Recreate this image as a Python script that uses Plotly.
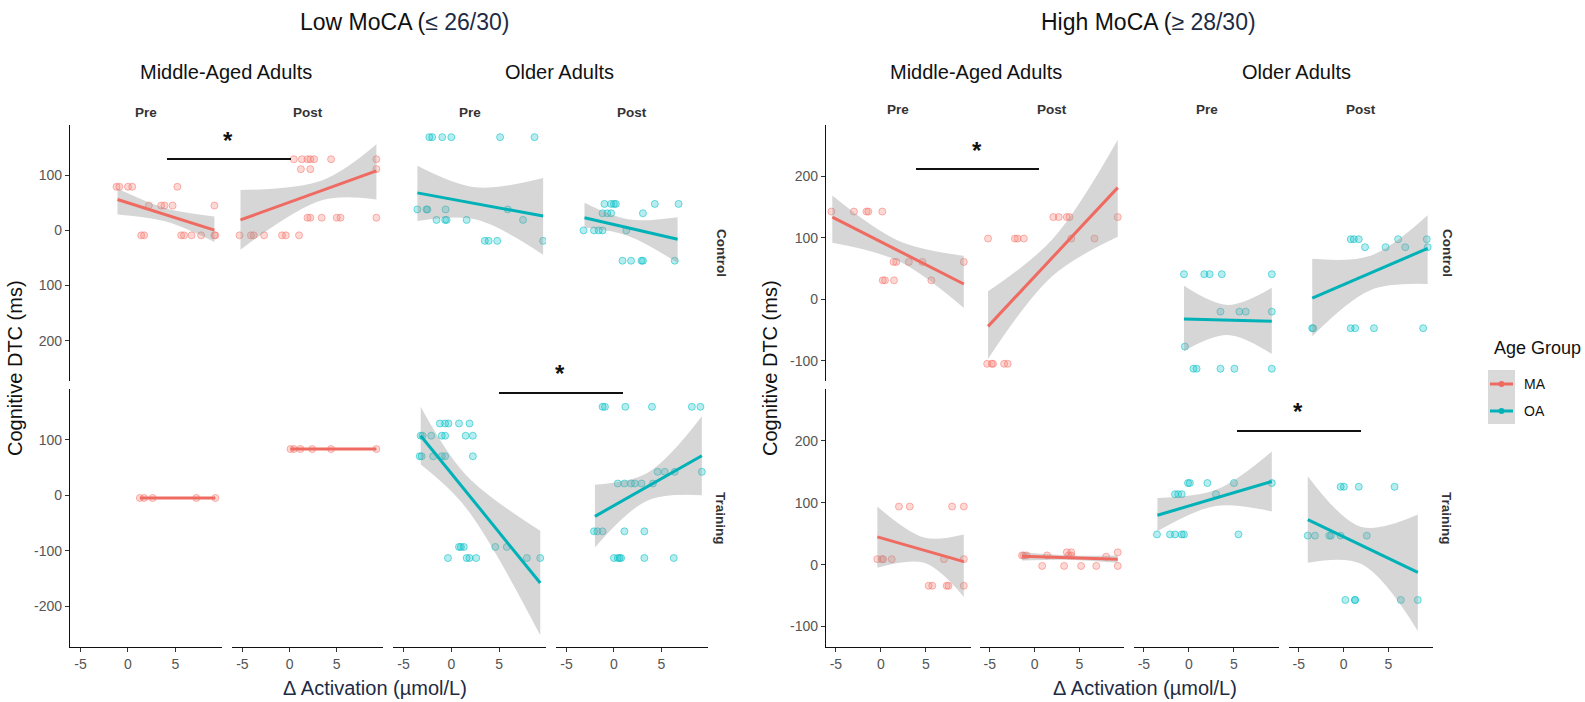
import plotly.graph_objects as go

# ---------------- data ----------------
# Low MoCA - Control row
low_ctrl_ma_pre_x = [-1.2, -0.9, 0.0, 0.45, 5.2, 2.2, 3.5, 3.85, 4.7, 9.1, 1.4, 1.7, 5.6, 5.9, 6.7, 7.7, 9.1, 9.2]
low_ctrl_ma_pre_y = [79, 79, 79, 79, 79, 45, 45, 45, 45, 45, -9, -9, -9, -9, -9, -9, -9, -9]
low_ctrl_ma_post_x = [0.45, 1.3, 1.9, 2.2, 2.6, 4.4, 9.2, 1.2, 2.2, 9.2, 1.9, 2.2, 3.4, 5.0, 5.4, 9.2,
                      -5.3, -4.1, -3.8, -2.7, -0.8, -0.4, 1.0]
low_ctrl_ma_post_y = [129, 129, 129, 129, 129, 129, 129, 111, 111, 111, 23, 23, 23, 23, 23, 23,
                      -9, -9, -9, -9, -9, -9, -9]
low_ctrl_oa_pre_x = [-2.3, -2.0, -0.95, 0.0, 5.1, 8.7, -3.55, -2.6, -2.5, -0.6, 5.9, -1.55, -0.65, -0.5, 1.6, 7.5,
                     3.5, 3.9, 4.8, 9.6]
low_ctrl_oa_pre_y = [169, 169, 169, 169, 169, 169, 38, 38, 38, 38, 38, 19, 19, 19, 19, 19, -19, -19, -19, -19]
low_ctrl_oa_post_x = [-1.0, -0.3, 0.0, 0.2, 4.3, 6.8, -1.2, -0.7, -0.3, 3.05, -3.2, -2.1, -1.6, -1.2, 1.3,
                      0.9, 1.8, 2.9, 3.05, 6.4]
low_ctrl_oa_post_y = [48, 48, 48, 48, 48, 48, 31, 31, 31, 31, 0, 0, 0, 0, 0, -55, -55, -55, -55, -55]

# Low MoCA - Training row
low_train_ma_pre_x = [1.25, 1.7, 2.6, 7.2, 9.2]
low_train_ma_pre_y = [-5, -5, -5, -5, -5]
low_train_ma_post_x = [0.1, 0.45, 1.15, 2.4, 4.4, 9.2]
low_train_ma_post_y = [83, 83, 83, 83, 83, 83]
low_train_oa_pre_x = [-1.2, -0.65, -0.3, 0.8, 1.9, -3.2, -3.0, -2.1, -1.0, -0.65, 1.5, 2.25,
                      -3.3, -3.1, -1.9, -1.0, -0.65, 2.25, 0.8, 1.0, 1.3, 4.6, 5.8,
                      -0.35, 1.6, 1.9, 2.6, 7.9, 9.3]
low_train_oa_pre_y = [129, 129, 129, 129, 129, 107, 107, 107, 107, 107, 107, 107,
                      70, 70, 70, 70, 70, 70, -93, -93, -93, -93, -93,
                      -113, -113, -113, -113, -113, -113]
low_train_oa_post_x = [-1.2, -0.95, 1.2, 4.0, 8.2, 9.1, 4.6, 5.35, 6.4, 9.25, 0.4, 1.1, 1.8, 2.2, 2.9, 4.1,
                       -2.1, -1.75, -1.2, 1.1, 3.2, 0.0, 0.4, 0.6, 0.75, 3.2, 6.3]
low_train_oa_post_y = [159, 159, 159, 159, 159, 159, 42, 42, 42, 42, 21, 21, 21, 21, 21, 21,
                       -65, -65, -65, -65, -65, -113, -113, -113, -113, -113, -113]

# High MoCA - Control row
high_ctrl_ma_pre_x = [-5.5, -3.0, -1.6, -1.4, 0.15, 1.4, 1.7, 3.1, 4.6, 9.2, 0.2, 0.45, 1.45, 5.6]
high_ctrl_ma_pre_y = [143, 143, 143, 143, 143, 61, 61, 61, 61, 61, 31, 31, 31, 31]
high_ctrl_ma_post_x = [2.1, 2.7, 3.6, 3.9, 9.3, -5.2, -2.2, -1.9, -1.2, 4.1, 6.7, -5.3, -4.8, -4.65, -3.4, -3.0]
high_ctrl_ma_post_y = [134, 134, 134, 134, 134, 99, 99, 99, 99, 99, 99, -105, -105, -105, -105, -105]
high_ctrl_oa_pre_x = [-0.55, 1.7, 2.3, 3.65, 9.2, 3.5, 5.6, 6.3, 9.2, -0.45, 0.5, 0.85, 3.5, 5.05, 9.2]
high_ctrl_oa_pre_y = [41, 41, 41, 41, 41, -20, -20, -20, -20, -77, -113, -113, -113, -113, -113]
high_ctrl_oa_post_x = [0.8, 1.15, 1.7, 6.1, 9.3, 2.4, 4.7, 6.9, 9.4, -3.5, -3.4, 0.8, 1.3, 3.4, 8.9]
high_ctrl_oa_post_y = [98, 98, 98, 98, 98, 85, 85, 85, 85, -47, -47, -47, -47, -47, -47]

# High MoCA - Training row
high_train_ma_pre_x = [2.0, 3.2, 7.9, 9.2, -0.4, 0.1, 0.25, 1.2, 7.0, 9.2, 5.3, 5.7, 7.3, 7.5, 9.2]
high_train_ma_pre_y = [94, 94, 94, 94, 9, 9, 9, 9, 9, 9, -34, -34, -34, -34, -34]
high_train_ma_post_x = [-1.4, -1.2, -0.9, 1.4, 3.8, 4.1, 8.0, 3.6, 4.1, 9.3, 0.85, 3.3, 5.2, 6.9, 9.3]
high_train_ma_post_y = [15, 15, 15, 15, 15, 15, 13, 20, 20, 20, -2, -2, -2, -2, -2]
high_train_oa_pre_x = [-0.1, 0.1, 2.05, 5.0, 9.2, -1.55, -1.2, -0.8, 3.0, -3.55, -2.1, -1.55, -0.8, -0.55, 5.5]
high_train_oa_pre_y = [132, 132, 132, 132, 132, 114, 114, 114, 114, 49, 49, 49, 49, 49, 49]
high_train_oa_post_x = [-0.33, 0.04, 1.7, 5.7, -4.0, -3.2, -1.6, -1.4, -0.33, 2.6, 0.2, 1.26, 1.3, 6.4, 8.3]
high_train_oa_post_y = [126, 126, 126, 126, 47, 47, 47, 47, 47, 47, -57, -57, -57, -57, -57]

# Fitted lines (x at left, mid, right) with line values at the ends and CI band (lo / hi at the three x)
low_ctrl_ma_pre_fit = dict(x=[-1.1, 4.0, 9.1], line=[56, 0.5], lo=[29, 16, -21], hi=[76, 40, 25])
low_ctrl_ma_post_fit = dict(x=[-5.2, 3.5, 9.2], line=[19, 108], lo=[-35, 55, 56], hi=[73, 91, 156])
low_ctrl_oa_pre_fit = dict(x=[-3.55, 2.5, 9.6], line=[68, 26], lo=[17, 20, -44], hi=[117, 78, 95])
low_ctrl_oa_post_fit = dict(x=[-3.1, 1.5, 6.7], line=[23, -16], lo=[5, -10, -59], hi=[50, 20, 24])
low_train_ma_pre_fit = dict(x=[1.25, 5.2, 9.2], line=[-5, -5], lo=[-5, -5, -5], hi=[-5, -5, -5])
low_train_ma_post_fit = dict(x=[0.1, 4.6, 9.2], line=[83, 83], lo=[83, 83, 83], hi=[83, 83, 83])
low_train_oa_pre_fit = dict(x=[-3.2, 1.5, 9.3], line=[107, -158], lo=[55, -22, -252], hi=[159, 37, -64])
low_train_oa_post_fit = dict(x=[-2.0, 3.5, 9.25], line=[-38, 71], lo=[-94, -10, 0], hi=[19, 40, 142])
high_ctrl_ma_pre_fit = dict(x=[-5.4, 2.0, 9.2], line=[134, 25], lo=[92, 62, -14], hi=[169, 95, 71])
high_ctrl_ma_post_fit = dict(x=[-5.2, 2.0, 9.3], line=[-44, 182], lo=[-97, 38, 102], hi=[13, 98, 260])
high_ctrl_oa_pre_fit = dict(x=[-0.55, 4.3, 9.2], line=[-32, -35.5], lo=[-84, -58, -89], hi=[22, -9, 19])
high_ctrl_oa_post_fit = dict(x=[-3.5, 3.0, 9.4], line=[2, 83], lo=[-60, 15, 25], hi=[66, 71, 137])
high_train_ma_pre_fit = dict(x=[-0.4, 4.8, 9.2], line=[45, 5], lo=[-5, 3, -52], hi=[94, 44, 49])
high_train_ma_post_fit = dict(x=[-1.4, 4.0, 9.3], line=[13.5, 9], lo=[7, 8, 3], hi=[20, 15, 15])
high_train_oa_pre_fit = dict(x=[-3.5, 3.0, 9.2], line=[80, 134.5], lo=[54, 95, 86], hi=[108, 121, 183])
high_train_oa_post_fit = dict(x=[-4.0, 2.0, 8.3], line=[73, -12.5], lo=[3, 1, -107], hi=[143, 61, 81])

x_tick_vals = [-5, 0, 5]
x_tick_text = ["-5", "0", "5"]
low_ctrl_y_vals = [100, 0, -100, -200]
low_ctrl_y_text = ["100", "0", "100", "200"]
low_train_y_vals = [100, 0, -100, -200]
low_train_y_text = ["100", "0", "-100", "-200"]
high_y_vals = [200, 100, 0, -100]
high_y_text = ["200", "100", "0", "-100"]

# ---------------- layout geometry ----------------
W, H = 1585, 702
FONT = "Liberation Sans, Arial, sans-serif"
MA_FILL, MA_EDGE, MA_LINE = "rgba(248,118,109,0.28)", "rgba(248,118,109,0.55)", "#EF6A60"
OA_FILL, OA_EDGE, OA_LINE = "rgba(0,191,196,0.28)", "rgba(0,191,196,0.55)", "#00B2B7"
BAND = "rgba(153,153,153,0.4)"


def px(xp):
    return xp / W


def py(yp):
    return 1 - yp / H


COLS = {
    "low": [(70, 222), (232, 383), (393, 546), (556, 708)],
    "high": [(826, 971), (980, 1124), (1134, 1279), (1289, 1433)],
}
ROWS = [(125, 381), (389, 647)]
XRANGE = {"low": [-6.1, 9.9], "high": [-6.1, 10.0]}
YRANGE = {"low": [-273, 191], "high": [-133, 284]}

facets = []
for panel in ["low", "high"]:
    for r, row in enumerate(["ctrl", "train"]):
        for c, (grp, phase) in enumerate([("ma", "pre"), ("ma", "post"), ("oa", "pre"), ("oa", "post")]):
            name = f"{panel}_{row}_{grp}_{phase}"
            facets.append(dict(panel=panel, row=r, col=c, grp=grp,
                               x=globals()[name + "_x"], y=globals()[name + "_y"],
                               fit=globals()[name + "_fit"]))

fig = go.Figure()
layout = dict(width=W, height=H, margin=dict(l=0, r=0, t=0, b=0),
              paper_bgcolor="white", plot_bgcolor="white", showlegend=False,
              font=dict(family=FONT, color="#222"))

for i, f in enumerate(facets):
    n = i + 1
    xs = "x" if n == 1 else f"x{n}"
    ys = "y" if n == 1 else f"y{n}"
    xa = "xaxis" if n == 1 else f"xaxis{n}"
    ya = "yaxis" if n == 1 else f"yaxis{n}"
    c0, c1 = COLS[f["panel"]][f["col"]]
    r0, r1 = ROWS[f["row"]]
    bottom = f["row"] == 1
    left = f["col"] == 0
    layout[xa] = dict(domain=[px(c0), px(c1)], range=XRANGE[f["panel"]], anchor=ys,
                      showgrid=False, zeroline=False, showline=bottom, linecolor="#111", linewidth=1.4,
                      ticks="outside" if bottom else "", ticklen=4, tickcolor="#333",
                      tickvals=x_tick_vals, ticktext=x_tick_text, showticklabels=bottom,
                      tickfont=dict(size=14, color="#555", family=FONT))
    if f["panel"] == "low":
        yv, yt = (low_ctrl_y_vals, low_ctrl_y_text) if f["row"] == 0 else (low_train_y_vals, low_train_y_text)
    else:
        yv, yt = high_y_vals, high_y_text
    layout[ya] = dict(domain=[py(r1), py(r0)], range=YRANGE[f["panel"]], anchor=xs,
                      showgrid=False, zeroline=False, showline=left, linecolor="#111", linewidth=1.4,
                      ticks="outside" if left else "", ticklen=4, tickcolor="#333",
                      tickvals=yv, ticktext=yt, showticklabels=left,
                      tickfont=dict(size=14, color="#555", family=FONT))

    fill, edge, lc = (MA_FILL, MA_EDGE, MA_LINE) if f["grp"] == "ma" else (OA_FILL, OA_EDGE, OA_LINE)
    fit = f["fit"]
    fig.add_trace(go.Scatter(x=f["x"], y=f["y"], mode="markers", xaxis=xs, yaxis=ys,
                             marker=dict(size=7, color=fill, line=dict(color=edge, width=1)),
                             hoverinfo="skip"))
    fig.add_trace(go.Scatter(x=fit["x"], y=fit["lo"], mode="lines", xaxis=xs, yaxis=ys,
                             line=dict(width=0, shape="spline"), hoverinfo="skip"))
    fig.add_trace(go.Scatter(x=fit["x"], y=fit["hi"], mode="lines", xaxis=xs, yaxis=ys,
                             line=dict(width=0, shape="spline"), fill="tonexty", fillcolor=BAND,
                             hoverinfo="skip"))
    fig.add_trace(go.Scatter(x=[fit["x"][0], fit["x"][-1]], y=fit["line"], mode="lines",
                             xaxis=xs, yaxis=ys, line=dict(width=3, color=lc), hoverinfo="skip"))

annotations = []
shapes = []


def text(t, x, y, size, color="#111", bold=False, angle=0, xanchor="center", yanchor="middle"):
    if bold:
        t = f"<b>{t}</b>"
    annotations.append(dict(text=t, x=px(x), y=py(y), xref="paper", yref="paper", showarrow=False,
                            xanchor=xanchor, yanchor=yanchor, textangle=angle,
                            font=dict(size=size, color=color, family=FONT)))


# panel titles
text("Low MoCA (<span style='color:#1d2b45'>≤ 26/30)</span>", 405, 22, 23)
text("High MoCA (<span style='color:#1d2b45'>≥ 28/30)</span>", 1148, 22, 23)
text("Middle-Aged Adults", 226, 72, 20)
text("Older Adults", 559, 72, 20)
text("Middle-Aged Adults", 976, 72, 20)
text("Older Adults", 1296, 72, 20)
for panel, ylab in [("low", 113), ("high", 110)]:
    for c, lab in enumerate(["Pre", "Post", "Pre", "Post"]):
        c0, c1 = COLS[panel][c]
        text(lab, (c0 + c1) / 2, ylab, 13.5, bold=True, color="#333")
for xs_ in [721, 1447]:
    text("Control", xs_, 253, 13.5, bold=True, angle=90, color="#333")
    text("Training", xs_, 518, 13.5, bold=True, angle=90, color="#333")
text("Cognitive DTC (ms)", 15, 368, 20, angle=-90)
text("Cognitive DTC (ms)", 770, 368, 20, angle=-90)
text("Δ Activation (µmol/L)", 375, 688, 20, color="#1d2b45")
text("Δ Activation (µmol/L)", 1145, 688, 20, color="#1d2b45")

# significance bars
for (x0, x1, yl, xs_, ys_) in [(167, 291, 159, 228, 140), (499, 623, 393, 560, 373),
                                (916, 1039, 169, 977, 150), (1237, 1361, 431, 1298, 412)]:
    shapes.append(dict(type="line", xref="paper", yref="paper", x0=px(x0), x1=px(x1), y0=py(yl), y1=py(yl),
                       line=dict(color="#111", width=2)))
    text("*", xs_, ys_, 24, bold=True)

# legend (ggplot style)
text("Age Group", 1492, 348, 18, xanchor="left")
shapes.append(dict(type="rect", xref="paper", yref="paper", x0=px(1488), x1=px(1515), y0=py(424), y1=py(370),
                   fillcolor="#D9D9D9", line=dict(width=0), layer="below"))
for yk, col, lab in [(384, MA_LINE, "MA"), (411, OA_LINE, "OA")]:
    shapes.append(dict(type="line", xref="paper", yref="paper", x0=px(1490), x1=px(1513), y0=py(yk), y1=py(yk),
                       line=dict(color=col, width=3)))
    shapes.append(dict(type="circle", xref="paper", yref="paper", x0=px(1498.5), x1=px(1504.5),
                       y0=py(yk + 3), y1=py(yk - 3), fillcolor=col, line=dict(width=0)))
    text(lab, 1522, yk, 14, xanchor="left")

layout["annotations"] = annotations
layout["shapes"] = shapes
fig.update_layout(**layout)
fig.write_html("out.html")
